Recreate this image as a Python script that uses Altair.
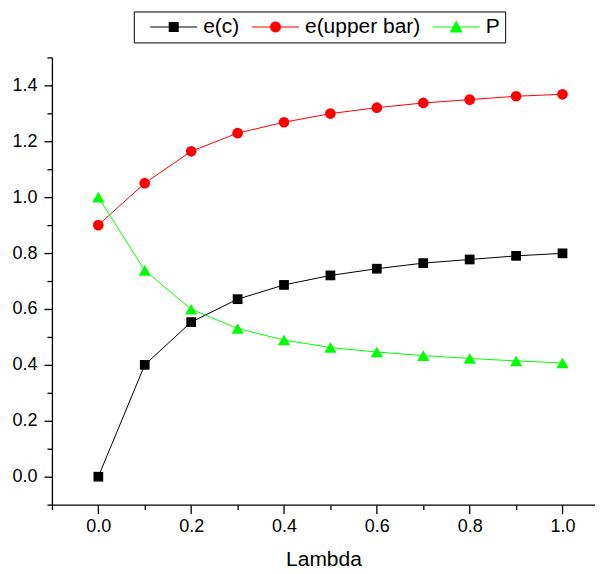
import altair as alt
import pandas as pd

lam = [0.0, 0.1, 0.2, 0.3, 0.4, 0.5, 0.6, 0.7, 0.8, 0.9, 1.0]
ec = [0.0, 0.40, 0.553, 0.635, 0.686, 0.720, 0.744, 0.764, 0.777, 0.790, 0.799]
eub = [0.90, 1.05, 1.164, 1.229, 1.268, 1.299, 1.320, 1.337, 1.349, 1.361, 1.368]
pp = [1.0, 0.738, 0.599, 0.530, 0.489, 0.462, 0.446, 0.433, 0.423, 0.414, 0.407]

series = ["e(c)", "e(upper bar)", "P"]
colors = ["#000000", "#ff0000", "#00ff00"]
shapes = ["square", "circle", "triangle-up"]
sizes = [95, 115, 150]

x_ticks = [round(-0.1 + 0.1 * i, 1) for i in range(12)]
y_ticks = [round(-0.1 + 0.1 * i, 1) for i in range(17)]

rows = []
for name, vals in zip(series, [ec, eub, pp]):
    for l, v in zip(lam, vals):
        rows.append({"Lambda": l, "value": v, "series": name})
df = pd.DataFrame(rows)

FONT = "Liberation Sans"

# legend symbols: line with marker, unit coords (+-1 -> +-29.5px)
LINE = "M-0.797,-0.018H0.797V0.018H-0.797Z "
sq = LINE + "M-0.17,-0.17H0.17V0.17H-0.17Z"
ci = LINE + "M-0.186,0A0.186,0.186 0 1,1 0.186,0A0.186,0.186 0 1,1 -0.186,0Z"
tr = LINE + "M0,-0.22L0.22,0.186L-0.22,0.186Z"
legend_paths = [sq, ci, tr]

major_test = "round(datum.value*10) % 2 == 0"
label_expr = "(round(datum.value*10) % 2 == 0) ? format(datum.value, '.1f') : ''"

x_enc = alt.X(
    "Lambda:Q",
    scale=alt.Scale(domain=[-0.1, 1.07], nice=False, zero=False),
    axis=alt.Axis(
        values=x_ticks,
        labelExpr=label_expr,
        title="Lambda",
        tickSize={"condition": {"test": major_test, "value": 9}, "value": 5},
        labelPadding=4,
        titlePadding=13,
        labelFlush=False,
        labelOverlap=False,
    ),
)
y_enc = alt.Y(
    "value:Q",
    scale=alt.Scale(domain=[-0.1, 1.5], nice=False, zero=False),
    axis=alt.Axis(
        values=y_ticks,
        labelExpr=label_expr,
        title=None,
        tickSize={"condition": {"test": major_test, "value": 8}, "value": 5},
        labelPadding=7,
        labelFlush=False,
        labelOverlap=False,
    ),
)

legend = alt.Legend(
    orient="none",
    legendX=82,
    legendY=-46,
    direction="horizontal",
    title=None,
    labelFont=FONT,
    labelFontSize=21,
    labelColor="black",
    symbolSize=3481,
    symbolOffset=6,
    clipHeight=22,
    labelOffset=0,
    columnPadding=-8,
    padding=4.5,
    strokeColor="black",
    symbolStrokeWidth=0,
    symbolOpacity=1,
)

layers = []
for name, col, shp, sz in zip(series, colors, shapes, sizes):
    sub = alt.Chart(df).transform_filter(alt.datum.series == name)
    layers.append(sub.mark_line(strokeWidth=1, color=col).encode(x=x_enc, y=y_enc))
for name, col, shp, sz in zip(series, colors, shapes, sizes):
    sub = alt.Chart(df).transform_filter(alt.datum.series == name)
    layers.append(
        sub.mark_point(filled=True, opacity=1, color=col, shape=shp, size=sz).encode(x=x_enc, y=y_enc)
    )

legend_layer = (
    alt.Chart(df)
    .transform_filter("false")
    .mark_point(filled=True, opacity=1)
    .encode(
        x=x_enc,
        y=y_enc,
        color=alt.Color("series:N", scale=alt.Scale(domain=series, range=colors), legend=legend),
        shape=alt.Shape("series:N", scale=alt.Scale(domain=series, range=legend_paths), legend=legend),
    )
)
layers.append(legend_layer)

chart = (
    alt.layer(*layers)
    .properties(
        width=544,
        height=448,
        padding={"left": 3, "top": 2, "right": 0, "bottom": 0},
        background="white",
    )
    .configure_view(stroke=None)
    .configure_axis(
        grid=False,
        domainColor="black",
        domainWidth=1.3,
        tickColor="black",
        tickWidth=1.3,
        labelColor="black",
        labelFont=FONT,
        labelFontSize=18,
        titleFont=FONT,
        titleFontSize=21,
        titleFontWeight="normal",
        titleColor="black",
    )
)

chart.save("out.html", embed_options={"renderer": "svg", "actions": False})
